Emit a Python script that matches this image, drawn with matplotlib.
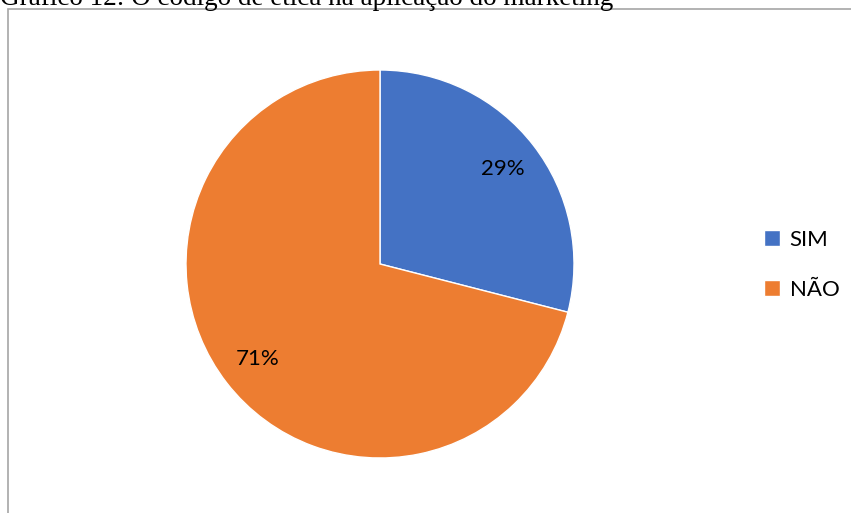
import matplotlib.pyplot as plt
from matplotlib.patches import Rectangle

labels = ['SIM', 'NÃO']
values = [29, 71]
colors = ['#4472C4', '#ED7D31']
title = 'Gráfico 12: O código de ética na aplicação do marketing'

W, H = 851, 513
fig = plt.figure(figsize=(W / 100, H / 100), dpi=100)

# chart frame, runs off the right and bottom edges like the screenshot
fig.patches.append(Rectangle((8 / W, -0.1), 1.2, 1 - 9 / H + 0.1,
                             transform=fig.transFigure, fill=False,
                             edgecolor='#A6A6A6', linewidth=1.2))

# caption above the frame (clipped at the top in the source image too)
fig.text(0.0, 1 - 5 / H, title, family='Liberation Serif', fontsize=19.5,
         va='baseline', ha='left', color='black')

# pie centre (380, 264), radius ~194 px
r = 194
ax = fig.add_axes([(380 - r) / W, (H - 264 - r) / H, 2 * r / W, 2 * r / H])
wedges, texts, autotexts = ax.pie(
    values, colors=colors, startangle=90, counterclock=False,
    autopct='%1.0f%%', pctdistance=0.8,
    wedgeprops=dict(edgecolor='white', linewidth=1),
    textprops=dict(fontsize=16, family='Lato', color='black'))
ax.set_xlim(-1, 1)
ax.set_ylim(-1, 1)
ax.set_aspect('auto')

leg = fig.legend(wedges, labels, loc='center left',
                 bbox_to_anchor=(744 / W, 1 - 265 / H), frameon=False,
                 prop=dict(family='Lato', size=16),
                 handlelength=0.7, handleheight=0.7, handletextpad=0.45,
                 labelspacing=1.35)

fig.savefig('out.png', dpi=100)
